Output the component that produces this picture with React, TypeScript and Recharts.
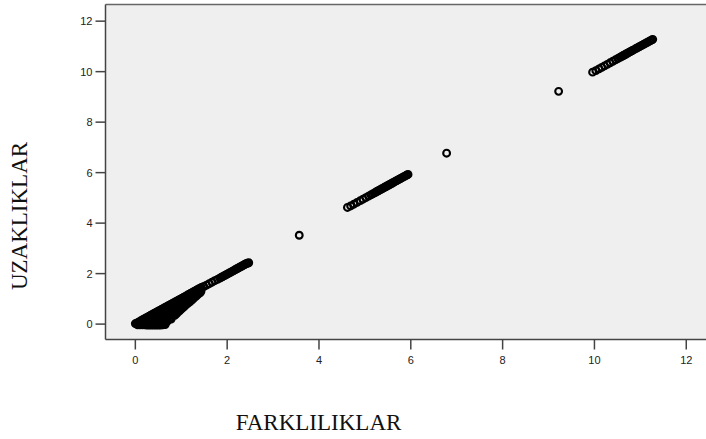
import {
  ScatterChart,
  Scatter,
  XAxis,
  YAxis,
  ReferenceArea,
  ReferenceLine,
} from "recharts";

// lower cluster, points along the diagonal (0 .. 2.47)
const lowDiagX = [
  0.0, 0.03, 0.06, 0.09, 0.12, 0.15, 0.18, 0.21, 0.24, 0.27, 0.3, 0.33, 0.36,
  0.39, 0.42, 0.45, 0.48, 0.51, 0.54, 0.57, 0.6, 0.63, 0.66, 0.69, 0.72, 0.75,
  0.78, 0.81, 0.84, 0.87, 0.9, 0.93, 0.96, 0.99, 1.02, 1.05, 1.08, 1.11, 1.14,
  1.17, 1.2, 1.23, 1.26, 1.29, 1.32, 1.35, 1.38, 1.41, 1.44,
  1.49, 1.55, 1.61, 1.67, 1.73, 1.79, 1.84,
  1.87, 1.9, 1.93, 1.96, 1.99, 2.02, 2.05, 2.08, 2.11, 2.14, 2.17, 2.2, 2.23,
  2.26, 2.29, 2.32, 2.35, 2.38, 2.41, 2.44, 2.47,
];
const lowDiagY = [
  0.02, 0.04, 0.07, 0.1, 0.13, 0.16, 0.19, 0.22, 0.25, 0.28, 0.31, 0.34, 0.37,
  0.4, 0.43, 0.46, 0.49, 0.52, 0.55, 0.58, 0.61, 0.64, 0.67, 0.7, 0.73, 0.76,
  0.79, 0.82, 0.85, 0.88, 0.91, 0.94, 0.97, 1.0, 1.03, 1.06, 1.09, 1.12, 1.15,
  1.18, 1.21, 1.24, 1.27, 1.3, 1.33, 1.36, 1.39, 1.42, 1.45,
  1.49, 1.54, 1.6, 1.66, 1.72, 1.77, 1.82,
  1.85, 1.88, 1.91, 1.94, 1.97, 2.0, 2.03, 2.06, 2.09, 2.12, 2.15, 2.18, 2.21,
  2.24, 2.27, 2.3, 2.33, 2.36, 2.39, 2.41, 2.43,
];

// lower cluster, points below the diagonal (the wide blob near 0)
const blobX = [
  0.05, 0.1, 0.15, 0.2, 0.25, 0.3, 0.35, 0.4, 0.45, 0.5, 0.55, 0.6, 0.65,
  0.12, 0.19, 0.26, 0.34, 0.42, 0.5, 0.58, 0.66,
  0.15, 0.22, 0.3, 0.38, 0.46, 0.54, 0.62, 0.7,
  0.26, 0.34, 0.42, 0.5, 0.58, 0.66, 0.74, 0.78,
  0.3, 0.38, 0.46, 0.54, 0.62, 0.7, 0.78,
  0.4, 0.49, 0.57, 0.65, 0.73, 0.81, 0.86,
  0.45, 0.53, 0.61, 0.69, 0.77, 0.85, 0.9,
  0.56, 0.64, 0.72, 0.8, 0.88, 0.95,
  0.6, 0.68, 0.76, 0.84, 0.92, 0.99,
  0.72, 0.8, 0.88, 0.96, 1.04,
  0.76, 0.84, 0.92, 1.0, 1.08,
  0.86, 0.94, 1.02, 1.1, 1.13,
  0.9, 0.98, 1.06, 1.14, 1.18,
  1.02, 1.1, 1.18, 1.23,
  1.06, 1.14, 1.22, 1.27,
  1.16, 1.24, 1.32,
  1.22, 1.3, 1.36,
  1.3, 1.38, 1.41,
  1.36, 1.43,
];
const blobY = [
  -0.03, -0.03, -0.03, -0.03, -0.04, -0.04, -0.04, -0.04, -0.04, -0.04, -0.04, -0.03, -0.02,
  0.05, 0.05, 0.05, 0.05, 0.05, 0.05, 0.05, 0.05,
  0.12, 0.12, 0.12, 0.12, 0.12, 0.12, 0.12, 0.12,
  0.2, 0.2, 0.2, 0.2, 0.2, 0.2, 0.2, 0.2,
  0.27, 0.27, 0.27, 0.27, 0.27, 0.27, 0.27,
  0.35, 0.35, 0.35, 0.35, 0.35, 0.35, 0.35,
  0.42, 0.42, 0.42, 0.42, 0.42, 0.42, 0.42,
  0.5, 0.5, 0.5, 0.5, 0.5, 0.5,
  0.57, 0.57, 0.57, 0.57, 0.57, 0.57,
  0.65, 0.65, 0.65, 0.65, 0.65,
  0.72, 0.72, 0.72, 0.72, 0.72,
  0.8, 0.8, 0.8, 0.8, 0.8,
  0.87, 0.87, 0.87, 0.87, 0.87,
  0.95, 0.95, 0.95, 0.95,
  1.02, 1.02, 1.02, 1.02,
  1.1, 1.1, 1.1,
  1.17, 1.17, 1.17,
  1.24, 1.24, 1.24,
  1.3, 1.3,
];

// middle cluster (4.6 .. 5.95)
const midX = [
  4.62, 4.69, 4.76, 4.83, 4.9, 4.96, 5.02, 5.08, 5.13, 5.17, 5.21, 5.24, 5.27,
  5.3, 5.33, 5.36, 5.39, 5.42, 5.45, 5.48, 5.51, 5.54, 5.57, 5.6, 5.63, 5.66,
  5.69, 5.72, 5.75, 5.78, 5.81, 5.84, 5.87, 5.9, 5.92, 5.94,
];
const midY = [
  4.62, 4.68, 4.75, 4.82, 4.89, 4.95, 5.01, 5.07, 5.12, 5.16, 5.2, 5.23, 5.26,
  5.29, 5.32, 5.35, 5.38, 5.41, 5.44, 5.47, 5.5, 5.53, 5.56, 5.59, 5.62, 5.65,
  5.68, 5.71, 5.74, 5.77, 5.8, 5.83, 5.86, 5.89, 5.91, 5.93,
];

// upper cluster (9.95 .. 11.27)
const highX = [
  9.96, 10.03, 10.1, 10.16, 10.22, 10.28, 10.34, 10.4, 10.46, 10.51, 10.56,
  10.6, 10.63, 10.66, 10.69, 10.72, 10.75, 10.78, 10.81, 10.84, 10.89, 10.92,
  10.95, 10.98, 11.01, 11.04, 11.07, 11.1, 11.13, 11.16, 11.19, 11.22, 11.25,
  11.27,
];
const highY = [
  9.98, 10.04, 10.11, 10.17, 10.23, 10.29, 10.35, 10.41, 10.47, 10.52, 10.57,
  10.61, 10.64, 10.67, 10.7, 10.73, 10.76, 10.79, 10.82, 10.85, 10.9, 10.93,
  10.96, 10.99, 11.02, 11.05, 11.08, 11.11, 11.14, 11.17, 11.2, 11.23, 11.26,
  11.28,
];

// isolated points
const singleX = [3.57, 6.78, 9.22];
const singleY = [3.52, 6.77, 9.22];

const ticks = [0, 2, 4, 6, 8, 10, 12];

const toPoints = (xs: number[], ys: number[]) =>
  xs.map((x, i) => ({ x, y: ys[i] }));

const data = [
  ...toPoints(blobX, blobY),
  ...toPoints(lowDiagX, lowDiagY),
  ...toPoints(singleX, singleY),
  ...toPoints(midX, midY),
  ...toPoints(highX, highY),
];

const Ring = (props: any) => {
  const { cx, cy } = props;
  if (cx == null || cy == null) return null;
  return (
    <circle cx={cx} cy={cy} r={3.4} fill="none" stroke="#000" strokeWidth={2.1} />
  );
};

const tickStyle = {
  fontFamily: "'Liberation Sans', Arial, sans-serif",
  fontSize: 11,
  fill: "#222",
};

export default function App() {
  return (
    <div style={{ position: "fixed", left: 0, top: 0, width: 706, height: 439, background: "#fff" }}>
      <ScatterChart
        width={706}
        height={439}
        margin={{ top: 4.5, right: 0, left: 65.5, bottom: 69.5 }}
      >
        <ReferenceArea
          x1={-0.65}
          x2={12.43}
          y1={-0.61}
          y2={12.66}
          fill="#efefef"
          fillOpacity={1}
          stroke="none"
          ifOverflow="extendDomain"
        />
        <ReferenceLine y={12.66} stroke="#666" strokeWidth={1.5} />
        <XAxis
          type="number"
          dataKey="x"
          domain={[-0.65, 12.43]}
          ticks={ticks}
          allowDataOverflow
          height={30}
          tickSize={10}
          tickMargin={7}
          tick={tickStyle}
          axisLine={{ stroke: "#444", strokeWidth: 1.5 }}
          tickLine={{ stroke: "#444", strokeWidth: 1.5 }}
        />
        <YAxis
          type="number"
          dataKey="y"
          domain={[-0.61, 12.66]}
          ticks={ticks}
          allowDataOverflow
          width={40}
          tickSize={10}
          tickMargin={3}
          tick={tickStyle}
          axisLine={{ stroke: "#444", strokeWidth: 1.5 }}
          tickLine={{ stroke: "#444", strokeWidth: 1.5 }}
        />
        <Scatter data={data} shape={<Ring />} isAnimationActive={false} />
      </ScatterChart>
      <svg
        width={706}
        height={439}
        style={{ position: "absolute", left: 0, top: 0, pointerEvents: "none" }}
      >
        <text
          x={318.5}
          y={430}
          textAnchor="middle"
          fontFamily="'Liberation Serif', 'Times New Roman', serif"
          fontSize={23}
          fill="#111"
        >
          FARKLILIKLAR
        </text>
        <text
          transform="translate(27,216) rotate(-90)"
          textAnchor="middle"
          fontFamily="'Liberation Serif', 'Times New Roman', serif"
          fontSize={23}
          fill="#111"
        >
          UZAKLIKLAR
        </text>
      </svg>
    </div>
  );
}
